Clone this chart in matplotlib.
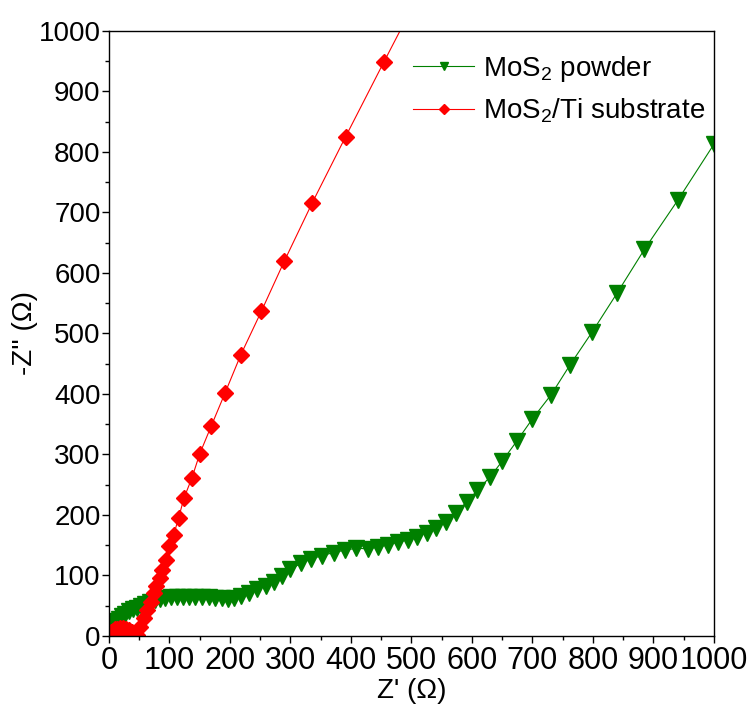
import matplotlib
matplotlib.use("Agg")
import matplotlib.pyplot as plt
from matplotlib.ticker import MultipleLocator

plt.rcParams['font.family'] = ['Liberation Sans', 'DejaVu Sans']
plt.rcParams['mathtext.fontset'] = 'custom'
plt.rcParams['mathtext.rm'] = 'Liberation Sans'
plt.rcParams['mathtext.it'] = 'Liberation Sans'
plt.rcParams['mathtext.bf'] = 'Liberation Sans'
plt.rcParams['mathtext.default'] = 'regular'

# MoS2 powder (green, down triangles)
powder_x = [3, 6, 9, 13, 17, 22, 27, 33, 39, 46, 53, 60, 68, 76, 84, 93, 102, 112,
            122, 132, 143, 154, 165, 176, 187, 197, 207, 218, 231, 245, 259, 273,
            286, 300, 317, 334, 352, 372, 390, 409, 428, 445, 462, 478, 494, 509,
            525, 540, 557, 573, 591, 609, 630, 650, 674, 700, 731, 762, 799, 840,
            885, 940, 1000]
powder_y = [8, 14, 19, 24, 28, 33, 37, 41, 44, 47, 50, 53, 56, 59, 61, 63, 64, 65,
            65, 65, 65, 64, 64, 63, 62, 61, 62, 66, 71, 77, 83, 90,
            99, 110, 120, 127, 133, 138, 142, 145, 144, 147, 151, 155, 159, 164,
            171, 179, 189, 204, 221, 241, 263, 289, 322, 359, 399, 448, 503, 567,
            639, 720, 813]

# MoS2/Ti substrate (red, diamonds)
ti_x = [2, 4, 7, 10, 14, 18, 23, 28, 33, 38, 42, 46, 52, 58, 63, 69, 74, 78, 84,
        88, 94, 99, 107, 115, 124, 137, 150, 169, 192, 218, 252, 290, 336, 391,
        454, 525]
ti_y = [3, 6, 9, 11, 12, 13, 13, 12, 10, 7, 4, 2, 15, 29, 43, 57, 71, 82, 96,
        109, 126, 148, 167, 195, 228, 261, 301, 347, 402, 465, 537, 620, 716, 825,
        948, 1085]

x_ticks = list(range(0, 1001, 100))
y_ticks = list(range(0, 1001, 100))

fig = plt.figure(figsize=(7.51, 7.11), dpi=100)
ax = fig.add_axes([0.1451, 0.1055, 0.8056, 0.8509])

ax.plot(powder_x, powder_y, color='#008000', lw=0.8, marker='v', ms=11,
        mec='#008000', mfc='#008000', label='MoS$_2$ powder')
ax.plot(ti_x, ti_y, color='#ff0000', lw=0.8, marker='D', ms=8.5,
        mec='#ff0000', mfc='#ff0000', label='MoS$_2$/Ti substrate')

ax.set_xlim(0, 1000)
ax.set_ylim(0, 1000)
ax.set_xticks(x_ticks)
ax.set_yticks(y_ticks)
ax.xaxis.set_minor_locator(MultipleLocator(50))
ax.yaxis.set_minor_locator(MultipleLocator(50))
ax.tick_params(which='major', direction='out', length=5, width=1, top=False, right=False)
ax.tick_params(which='minor', direction='out', length=3, width=1, top=False, right=False)
ax.tick_params(axis='y', labelsize=20, pad=1)
ax.tick_params(axis='x', labelsize=20, pad=2)
for lab in ax.get_xticklabels():
    lab.set_family(['Liberation Sans Narrow', 'Liberation Sans'])
    lab.set_fontsize(22)
for sp in ax.spines.values():
    sp.set_linewidth(1)

ax.set_xlabel("Z' (\u03a9)", fontsize=20, labelpad=2)
ax.set_ylabel("-Z'' (\u03a9)", fontsize=20)
ax.yaxis.set_label_coords(-0.117, 0.5)

leg = ax.legend(loc='upper left', bbox_to_anchor=(0.503, 0.962), frameon=False,
                fontsize=20, handlelength=2.2, handletextpad=0.3,
                labelspacing=0.45, borderpad=0, borderaxespad=0,
                markerscale=0.55)

fig.savefig('out.png', dpi=100)
